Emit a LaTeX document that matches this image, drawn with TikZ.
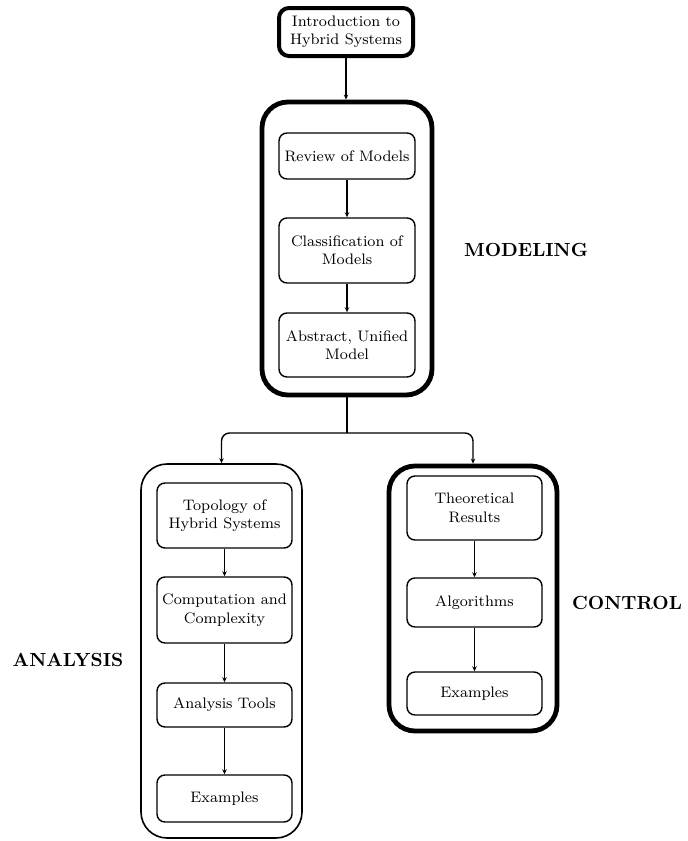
\documentclass[tikz,border=0pt]{standalone}
\usetikzlibrary{arrows.meta}
\begin{document}
\begin{tikzpicture}[x=0.5pt,y=-0.5pt,
  inner/.style={draw,rounded corners=4pt,line width=0.7pt,align=center,font=\fontsize{7.6}{9.2}\selectfont,inner sep=1pt},
  outerthick/.style={draw,rounded corners=13pt,line width=2.4pt},
  outerthin/.style={draw,rounded corners=13pt,line width=0.8pt},
  lbl/.style={font=\fontsize{9.5}{11}\selectfont\bfseries},
  conn/.style={line width=0.7pt,-{Stealth[length=2.5pt,width=2.2pt]}}]
\useasboundingbox (0,0) rectangle (687,841);
% top
\node[inner,line width=2pt,rounded corners=5pt,minimum width=67pt,minimum height=24pt] (intro) at (346,32) {Introduction to\\Hybrid Systems};
% modeling
\node[outerthick,minimum width=85pt,minimum height=146.5pt] (model) at (347,248.5) {};
\node[inner,minimum width=68pt,minimum height=23pt] (review) at (347,156) {Review of Models};
\node[inner,minimum width=68pt,minimum height=32.5pt] (class) at (347,250.5) {Classification of\\Models};
\node[inner,minimum width=68pt,minimum height=32pt] (abstr) at (347,345) {Abstract, Unified\\Model};
\node[lbl] (mlbl) at (526,250) {MODELING};
% analysis
\node[outerthin,minimum width=80.5pt,minimum height=187pt] (anal) at (221.5,651) {};
\node[inner,minimum width=67.5pt,minimum height=32.5pt] (topo) at (224.5,515.5) {Topology of\\Hybrid Systems};
\node[inner,minimum width=67.5pt,minimum height=33pt] (comp) at (224.5,610) {Computation and\\Complexity};
\node[inner,minimum width=67.5pt,minimum height=22pt] (tools) at (224.5,705) {Analysis Tools};
\node[inner,minimum width=67.5pt,minimum height=23.5pt] (exL) at (224.5,798.5) {Examples};
\node[lbl] (albl) at (68,660) {ANALYSIS};
% control
\node[outerthick,minimum width=84pt,minimum height=132.5pt] (ctrl) at (473,598.5) {};
\node[inner,minimum width=67.5pt,minimum height=32pt] (theo) at (474.5,508) {Theoretical\\Results};
\node[inner,minimum width=67.5pt,minimum height=24.5pt] (algo) at (474.5,602.5) {Algorithms};
\node[inner,minimum width=67.5pt,minimum height=21.5pt] (exR) at (474.5,693.5) {Examples};
\node[lbl] (clbl) at (627,603) {CONTROL};
% connectors
\coordinate (split) at (347,433);
\draw[conn] (intro.south) -- (intro.south |- model.north);
\draw[conn] (review) -- (class);
\draw[conn] (class) -- (abstr);
\draw[line width=0.7pt] (model.south) -- (split);
\draw[conn,rounded corners=4pt] (split) -| (anal.north);
\draw[conn,rounded corners=4pt] (split) -| (ctrl.north);
\draw[conn] (topo) -- (comp);
\draw[conn] (comp) -- (tools);
\draw[conn] (tools) -- (exL);
\draw[conn] (theo) -- (algo);
\draw[conn] (algo) -- (exR);
\end{tikzpicture}
\end{document}
